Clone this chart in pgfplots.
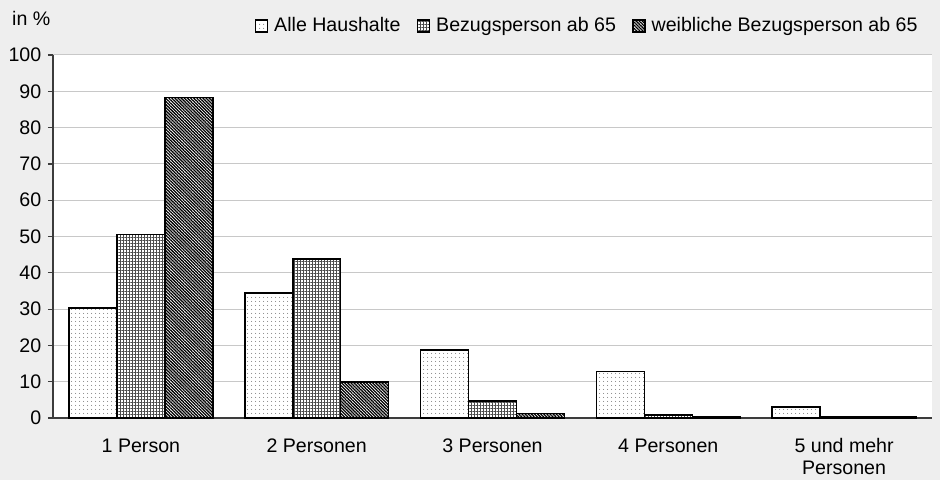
\documentclass[border=0pt]{standalone}
\usepackage{fontspec}
\setmainfont{Liberation Sans}
\usepackage{pgfplots}
\pgfplotsset{compat=1.18}
\usetikzlibrary{patterns.meta}
\definecolor{bg}{RGB}{238,238,238}
\definecolor{gridc}{RGB}{200,200,200}
\definecolor{axc}{RGB}{60,60,60}
\newcommand{\fs}{\fontsize{19.6}{22}\selectfont}
\begin{document}
\fs
\begin{tikzpicture}[x=1pt,y=1pt]
\useasboundingbox (0,0) rectangle (940,480);
\fill[bg] (0,0) rectangle (940,480);
\node[anchor=base west, inner sep=0] at (12,454) {in \%};
\begin{axis}[
  at={(53pt,62pt)}, anchor=south west,
  scale only axis, width=879pt, height=363pt,
  ymin=0, ymax=100, ytick={0,10,...,100},
  xmin=-0.5, xmax=4.5, xtick={0,...,4},
  xticklabels={1 Person, 2 Personen, 3 Personen, 4 Personen, {5 und mehr\\Personen}},
  xticklabel style={align=center, yshift=-9pt},
  x tick style={draw=none},
  y tick style={axc, line width=1.2pt},
  tick align=outside, major tick length=5pt,
  axis x line*=bottom, axis y line*=left,
  axis line style={axc, line width=1.6pt, -},
  ymajorgrids, grid style={gridc, line width=1pt},
  axis background/.style={fill=white},
  /pgf/number format/assume math mode=true,
  tick label style={font=\fs},
  legend style={at={(axis description cs:0.986,1.08)}, anchor=east, draw=none, fill=none,
    font=\fs, inner sep=0pt,
    /tikz/every even column/.append style={column sep=14pt}},
  legend columns=3, legend cell align=left,
  legend image code/.code={\draw[#1] (0pt,-6pt) rectangle (12pt,6pt); \path (16pt,0pt);},
]
\addplot[ybar, bar width=0.273, bar shift=-0.273, draw=black, line width=1.6pt,
  preaction={fill=white}, pattern={Dots[distance=4pt, radius=0.55pt]}, pattern color=black!75]
  coordinates {(0,30.3) (1,34.5) (2,18.8) (3,12.8) (4,3.1)};
\addlegendentry{Alle Haushalte}
\addplot[ybar, bar width=0.273, bar shift=0, draw=black, line width=1.6pt,
  preaction={fill=white}, pattern={Hatch[angle=0, distance=3pt, line width=0.55pt]}, pattern color=black!70]
  coordinates {(0,50.5) (1,43.8) (2,4.7) (3,0.8) (4,0.3)};
\addlegendentry{Bezugsperson ab 65}
\addplot[ybar, bar width=0.273, bar shift=0.273, draw=black, line width=1.6pt,
  preaction={fill=white}, pattern={Lines[angle=-45, distance=2.2pt, line width=1.3pt]}, pattern color=black]
  coordinates {(0,88.3) (1,10.0) (2,1.2) (3,0.3) (4,0.2)};
\addlegendentry{weibliche Bezugsperson ab 65}
\end{axis}
\end{tikzpicture}
\end{document}
